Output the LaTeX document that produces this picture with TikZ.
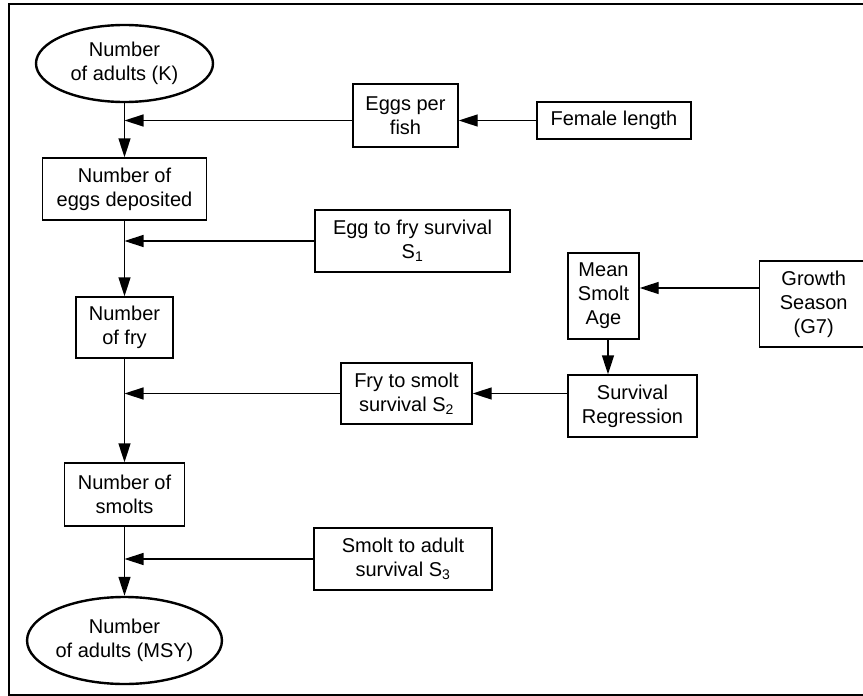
\documentclass[tikz,border=0pt]{standalone}
\usepackage{fontspec}
\setmainfont{Liberation Sans}
\usetikzlibrary{shapes.geometric,arrows.meta}
\begin{document}
\begin{tikzpicture}[x=1pt,y=-1pt,
box/.style={draw,line width=1.4pt,align=center,inner sep=0pt,font=\fontsize{20}{24}\selectfont},
oval/.style={box,ellipse,line width=2.4pt},
arr/.style={line width=1.4pt,-{Triangle[length=19pt,width=12pt]}}]
\useasboundingbox(0,0)rectangle(863,696);
\clip(0,0)rectangle(863,696);
\draw[line width=2.5pt](9,4)rectangle(880,695);
\node[oval,minimum width=177pt,minimum height=77pt](K)at(124.5,63.5){Number\\of adults (K)};
\node[box,minimum width=164pt,minimum height=62pt](eggs)at(124.5,189){Number of\\eggs deposited};
\node[box,minimum width=97pt,minimum height=61pt](fry)at(124.5,327.5){Number\\of fry};
\node[box,minimum width=120pt,minimum height=63pt](smolts)at(124.5,494.5){Number of\\smolts};
\node[oval,minimum width=194pt,minimum height=87pt](MSY)at(124.5,640.5){Number\\of adults (MSY)};
\node[box,minimum width=105pt,minimum height=63pt](epf)at(405.5,115.5){Eggs per\\fish};
\node[box,minimum width=154pt,minimum height=37pt](fl)at(614,120.5){Female length};
\node[box,minimum width=195pt,minimum height=62pt](s1)at(412.5,241){Egg to fry survival\\S\textsubscript{1}};
\node[box,minimum width=131pt,minimum height=61pt](s2)at(406.5,393.5){Fry to smolt\\survival S\textsubscript{2}};
\node[box,minimum width=178pt,minimum height=62pt](s3)at(403,559){Smolt to adult\\survival S\textsubscript{3}};
\node[box,minimum width=71pt,minimum height=86pt](msa)at(603.5,296){Mean\\Smolt\\Age};
\node[box,minimum width=129pt,minimum height=62pt](sr)at(632.5,406){Survival\\Regression};
\node[box,anchor=west,minimum width=108pt,minimum height=86pt](gs)at(759,304){Growth\\Season\\(G7)};
\draw[arr](K)--(eggs);
\draw[arr](eggs)--(fry);
\draw[arr](fry)--(smolts);
\draw[arr](smolts)--(MSY);
\draw[arr](fl)--(fl-|epf.east);
\draw[arr](epf.west|-fl)--(fl-|K);
\draw[arr](s1)--(s1-|eggs);
\draw[arr]([yshift=16pt]gs.west)--([yshift=8pt]msa.east);
\draw[arr]([xshift=4.5pt]msa.south)--([xshift=4.5pt]msa.south|-sr.north);
\draw[arr](sr.west|-s2)--(s2);
\draw[arr](s2)--(s2-|fry);
\draw[arr](s3)--(s3-|smolts);
\end{tikzpicture}
\end{document}
